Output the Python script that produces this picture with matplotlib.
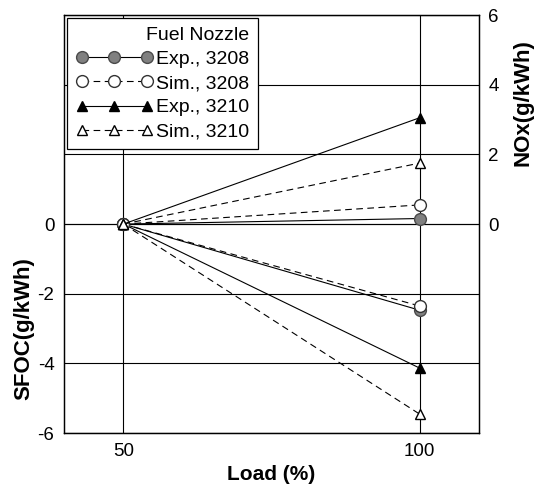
import matplotlib
matplotlib.use("Agg")
from matplotlib import pyplot as plt

plt.rcParams['font.family'] = ['Liberation Sans', 'DejaVu Sans']
plt.rcParams['axes.unicode_minus'] = False

# data
load = [50, 100]
series = ['Exp., 3208', 'Sim., 3208', 'Exp., 3210', 'Sim., 3210']
sfoc = [[0, -2.47], [0, -2.35], [0, -4.13], [0, -5.45]]
nox = [[0, 0.16], [0, 0.55], [0, 3.05], [0, 1.75]]

# styles per series
styles = [
    dict(ls='-', marker='o', mfc='#808080', mec='#4a4a4a', ms=8.5),
    dict(ls=(0, (6, 4)), marker='o', mfc='white', mec='#333333', ms=8.5),
    dict(ls='-', marker='^', mfc='black', mec='black', ms=7.5),
    dict(ls=(0, (6, 4)), marker='^', mfc='white', mec='black', ms=7.5),
]

fig = plt.figure(figsize=(5.44, 4.84), dpi=100)
ax = fig.add_axes([0.118, 0.105, 0.762, 0.864])
ax2 = ax.twinx()

handles = []
for name, sf, nx, st in zip(series, sfoc, nox, styles):
    h, = ax.plot(load, sf, color='black', lw=0.8, label=name, zorder=3, **st)
    ax2.plot(load, nx, color='black', lw=0.8, zorder=3, **st)
    handles.append(h)

for a in (ax, ax2):
    a.set_ylim(-6, 6)
    a.set_xlim(40, 110)
    a.tick_params(length=0, labelsize=13.5, pad=7)
    for s in a.spines.values():
        s.set_linewidth(0.9)

ax.set_xticks([50, 100])
ax.set_yticks([-6, -4, -2, 0])
ax2.set_yticks([0, 2, 4, 6])
ax.grid(True, color='black', lw=0.8)
ax2.grid(True, axis='y', color='black', lw=0.8)

ax.set_xlabel('Load (%)', fontsize=15, fontweight='bold', labelpad=4)
ax.set_ylabel('SFOC(g/kWh)', fontsize=16, fontweight='bold')
ax2.set_ylabel('NOx(g/kWh)', fontsize=16, fontweight='bold')
ax.yaxis.set_label_coords(-0.071, 0.25)
ax2.yaxis.set_label_coords(1.082, 0.79)

leg = ax2.legend(handles=handles, loc='upper left', title='Fuel Nozzle',
                 numpoints=3, fontsize=14, title_fontsize=14,
                 handlelength=3.95, handletextpad=0.17, borderaxespad=0.15,
                 borderpad=0.45, labelspacing=0.34, fancybox=False,
                 framealpha=1, edgecolor='black', alignment='right')
leg.get_frame().set_linewidth(0.9)
leg.set_zorder(10)

fig.savefig('out.png', dpi=100)
